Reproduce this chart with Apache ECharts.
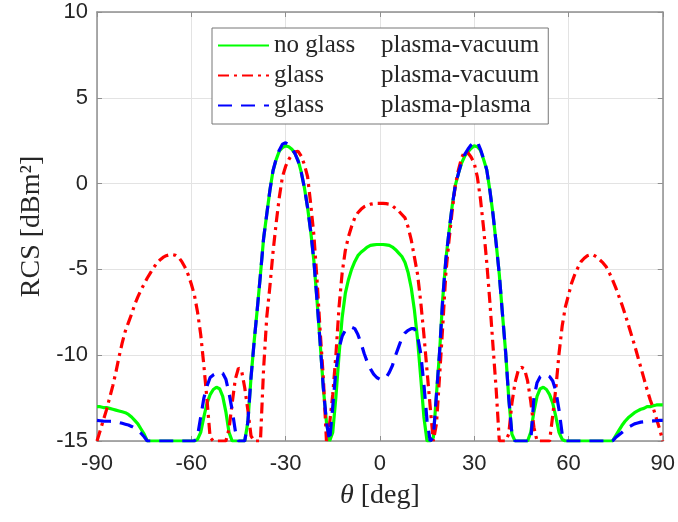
<!DOCTYPE html>
<html>
<head>
<meta charset="utf-8">
<script src="https://cdn.jsdelivr.net/npm/echarts@6/dist/echarts.min.js"></script>
<style>
  html, body { margin: 0; padding: 0; background: #fff; }
  #main { width: 678px; height: 522px; }
</style>
</head>
<body>
<div id="main"></div>
<script>
// theta samples [deg], one per degree
const theta = [
  -90, -89, -88, -87, -86, -85, -84, -83, -82, -81, -80, -79, -78, -77, -76, -75, -74, -73, -72, -71,
  -70, -69, -68, -67, -66, -65, -64, -63, -62, -61, -60, -59, -58, -57, -56, -55, -54, -53, -52, -51,
  -50, -49, -48, -47, -46, -45, -44, -43, -42, -41, -40, -39, -38, -37, -36, -35, -34, -33, -32, -31,
  -30, -29, -28, -27, -26, -25, -24, -23, -22, -21, -20, -19, -18, -17, -16, -15, -14, -13, -12, -11,
  -10, -9, -8, -7, -6, -5, -4, -3, -2, -1, 0, 1, 2, 3, 4, 5, 6, 7, 8, 9,
  10, 11, 12, 13, 14, 15, 16, 17, 18, 19, 20, 21, 22, 23, 24, 25, 26, 27, 28, 29,
  30, 31, 32, 33, 34, 35, 36, 37, 38, 39, 40, 41, 42, 43, 44, 45, 46, 47, 48, 49,
  50, 51, 52, 53, 54, 55, 56, 57, 58, 59, 60, 61, 62, 63, 64, 65, 66, 67, 68, 69,
  70, 71, 72, 73, 74, 75, 76, 77, 78, 79, 80, 81, 82, 83, 84, 85, 86, 87, 88, 89, 90
];

// no glass, plasma-vacuum
const rcsNoGlass = [
  -13.0, -13.0, -13.05, -13.05, -13.1, -13.15, -13.2, -13.25, -13.3, -13.35, -13.45, -13.6, -13.8, -14.0, -14.3, -14.6, -15,
  -15, -15, -15, -15, -15, -15, -15, -15, -15, -15, -15, -15, -15, -15, -15,
  -14.9, -14.5, -13.6, -12.8, -12.3, -12.0, -11.87, -11.95, -12.4, -13.3, -14.5, -15,
  -15, -15, -15, -15,
  -13.9, -11.3, -9.2, -7.3, -5.3, -3.2, -1.8, -0.4, 0.75, 1.4, 1.9, 2.1, 2.2, 2.15, 2.0, 1.75, 1.35, 0.65, -0.25, -1.4, -2.8, -4.5, -6.8, -9.3, -11.9, -13.9, -15,
  -14.5, -12.45, -10.0, -7.8, -6.4, -5.6, -5.0, -4.55, -4.2, -4.0, -3.85, -3.7, -3.6, -3.57, -3.55,
  -3.55, -3.55, -3.57, -3.6, -3.7, -3.85, -4.05, -4.25, -4.6, -5.2, -6.1, -7.4, -9.1, -11.3, -13.6, -15, -15,
  -14.8, -12.3, -9.8, -6.7, -4.4, -2.8, -1.3, -0.1, 0.6, 1.2, 1.6, 1.85, 2.05, 2.2, 2.15, 1.95, 1.4, 0.8, -0.4, -1.8, -3.5, -5.3, -7.6, -9.8, -12.5, -14.6, -15,
  -15, -15, -15, -15,
  -14.5, -13.3, -12.4, -11.95, -11.87, -12.0, -12.3, -12.8, -13.6, -14.5, -14.9,
  -15, -15, -15, -15, -15, -15, -15, -15, -15, -15, -15, -15, -15, -15, -15, -15,
  -14.7, -14.4, -14.1, -13.85, -13.65, -13.5, -13.35, -13.25, -13.15, -13.1, -13.0, -13.0, -12.95, -12.9, -12.9, -12.9
];

// glass, plasma-vacuum
const rcsGlassVacuum = [
  -15, -14.4, -13.8, -13.2, -12.5, -11.8, -11.0, -10.1, -9.3, -8.6, -8.1, -7.6, -7.05, -6.6, -6.2, -5.85, -5.5, -5.2, -4.9,
  -4.65, -4.45, -4.3, -4.2, -4.15, -4.14, -4.18, -4.3, -4.55, -4.88, -5.3, -5.85, -6.5, -7.5, -8.8, -10.6, -12.6, -14.8,
  -15, -15, -15, -15, -15,
  -14.3, -12.8, -11.4, -10.75, -10.9, -11.9, -13.2, -14.7, -15, -15, -15,
  -10.8, -7.8, -6.0, -4.0, -2.3, -0.8, 0.4, 1.0, 1.4, 1.7, 1.85, 1.88, 1.6, 1.1, 0.4, -1.2, -3.0, -5.6, -8.6, -11.3, -15,
  -14.0, -12.3, -10.0, -7.2, -5.2, -3.9, -3.1, -2.5, -2.0, -1.7, -1.5, -1.35, -1.27, -1.2, -1.17, -1.15,
  -1.15, -1.15, -1.17, -1.2, -1.3, -1.45, -1.6, -1.8, -2.0, -2.55, -3.3, -4.3, -5.3, -6.9, -8.8, -10.9, -13.0, -15,
  -14.0, -11.2, -8.3, -5.2, -3.3, -1.6, -0.1, 0.8, 1.5, 1.9, 1.8, 1.55, 1.2, 0.4, -0.9, -2.6, -4.6, -6.9, -9.5, -12.0, -15,
  -15, -15,
  -14.6, -12.8, -11.6, -10.9, -10.7, -10.8, -11.5, -12.7, -14.2, -15,
  -15, -15, -15, -15,
  -13.5, -11.9, -9.9, -8.3, -7.2, -6.5, -5.8, -5.3, -4.9, -4.55, -4.35, -4.2, -4.14, -4.17, -4.28, -4.45, -4.62, -4.85,
  -5.2, -5.6, -6.05, -6.55, -7.05, -7.6, -8.2, -8.8, -9.4, -10.05, -10.7, -11.35, -12.0, -12.6, -13.1, -13.7, -14.3, -15
];

// glass, plasma-plasma
const rcsGlassPlasma = [
  -13.8, -13.82, -13.84, -13.85, -13.85, -13.86, -13.88, -13.92, -13.97, -14.02, -14.07, -14.15, -14.25, -14.4, -14.55, -14.75, -15,
  -15, -15, -15, -15, -15, -15, -15, -15, -15, -15, -15, -15, -15, -15, -15,
  -14.7, -13.6, -12.5, -11.8, -11.3, -11.15, -11.05, -11.0, -11.05, -11.4, -12.2, -13.2, -14.4, -15,
  -15, -15,
  -13.9, -11.3, -9.2, -7.3, -5.3, -3.2, -1.8, -0.4, 0.75, 1.45, 1.95, 2.3, 2.38, 2.25, 2.05, 1.75, 1.3, 0.65, -0.25, -1.4, -2.8, -4.5, -6.8, -9.3, -11.9, -13.9, -15,
  -13.0, -10.9, -9.6, -8.9, -8.55, -8.4, -8.37, -8.45, -8.8, -9.3, -9.9, -10.4, -10.8, -11.1, -11.3,
  -11.4, -11.4, -11.3, -11.0, -10.6, -10.0, -9.5, -9.0, -8.7, -8.55, -8.45, -8.45, -8.9, -9.9, -11.7, -13.8, -15,
  -14.8, -12.3, -9.8, -6.7, -4.4, -2.8, -1.3, -0.1, 0.6, 1.25, 1.7, 2.0, 2.25, 2.4, 2.45, 2.0, 1.45, 0.8, -0.4, -1.8, -3.5, -5.3, -7.6, -9.8, -12.5, -14.6, -15,
  -15, -15, -15, -15, -15,
  -12.5, -11.6, -11.25, -11.15, -11.15, -11.25, -11.5, -12.1, -13.2, -14.6,
  -15, -15, -15, -15, -15, -15, -15, -15, -15, -15, -15, -15, -15, -15, -15, -15,
  -14.8, -14.65, -14.5, -14.35, -14.2, -14.1, -14.0, -13.95, -13.9, -13.88, -13.86, -13.85, -13.83, -13.82, -13.8, -13.8
];

const legendLeft = ['no glass', 'glass', 'glass'];
const legendRight = ['plasma-vacuum', 'plasma-vacuum', 'plasma-plasma'];
const seriesNames = legendLeft.map((s, i) => s + '|' + legendRight[i]);

const xTicks = { min: -90, max: 90, interval: 30 };
const yTicks = { min: -15, max: 10, interval: 5 };

const textColor = '#262626';
const boxColor = '#8f8f8f';
const gridColor = '#e3e3e3';
const sansFont = '"Liberation Sans", Arial, sans-serif';
const serifFont = '"Liberation Serif", "Times New Roman", serif';

function pairs(ys) {
  return theta.map((t, i) => [t, ys[i]]);
}

// box axes (top / right) only carry the frame and inward ticks
function frameAxis(pos, ticks) {
  return {
    type: 'value',
    min: ticks.min, max: ticks.max, interval: ticks.interval,
    position: pos,
    axisLine: { show: true, onZero: false, lineStyle: { color: boxColor, width: 1.5 } },
    axisTick: { show: true, inside: true, length: 5, lineStyle: { color: boxColor } },
    axisLabel: { show: false },
    splitLine: { show: false }
  };
}

const chart = echarts.init(document.getElementById('main'));

const option = {
  backgroundColor: '#fff',
  animation: false,
  grid: { left: 97, right: 15, top: 12, bottom: 81 },
  legend: {
    orient: 'vertical',
    left: 212,
    top: 28,
    data: seriesNames,
    backgroundColor: '#fff',
    borderColor: '#777',
    borderWidth: 1,
    padding: [5, 9, 6, 5],
    itemWidth: 51,
    itemHeight: 14,
    itemGap: 5,
    itemStyle: { opacity: 0 },
    formatter: function (name) {
      const p = name.split('|');
      return '{a|' + p[0] + '}{b|' + p[1] + '}';
    },
    textStyle: {
      fontFamily: serifFont,
      fontSize: 25,
      color: textColor,
      lineHeight: 25,
      rich: {
        a: { width: 107, fontFamily: serifFont, fontSize: 25, color: textColor },
        b: { fontFamily: serifFont, fontSize: 25, color: textColor }
      }
    }
  },
  xAxis: [
    {
      type: 'value',
      min: xTicks.min, max: xTicks.max, interval: xTicks.interval,
      position: 'bottom',
      axisLine: { show: true, onZero: false, lineStyle: { color: boxColor, width: 1.5 } },
      axisTick: { show: true, inside: true, length: 5, lineStyle: { color: boxColor } },
      axisLabel: { fontFamily: sansFont, fontSize: 22, color: textColor, margin: 12 },
      splitLine: { show: true, lineStyle: { color: gridColor, width: 1 } },
      name: '{i|θ} [deg]',
      nameLocation: 'middle',
      nameGap: 41,
      nameTextStyle: {
        fontFamily: serifFont, fontSize: 28, color: textColor,
        rich: { i: { fontFamily: serifFont, fontStyle: 'italic', fontSize: 28, color: textColor } }
      }
    },
    frameAxis('top', xTicks)
  ],
  yAxis: [
    {
      type: 'value',
      min: yTicks.min, max: yTicks.max, interval: yTicks.interval,
      position: 'left',
      axisLine: { show: true, onZero: false, lineStyle: { color: boxColor, width: 1.5 } },
      axisTick: { show: true, inside: true, length: 5, lineStyle: { color: boxColor } },
      axisLabel: { fontFamily: sansFont, fontSize: 22, color: textColor, margin: 9 },
      splitLine: { show: true, lineStyle: { color: gridColor, width: 1 } },
      name: 'RCS [dBm²]',
      nameLocation: 'middle',
      nameGap: 36,
      nameTextStyle: { fontFamily: serifFont, fontSize: 28, color: textColor }
    },
    frameAxis('right', yTicks)
  ],
  series: [
    {
      name: seriesNames[0],
      type: 'line',
      symbol: 'none',
      data: pairs(rcsNoGlass),
      lineStyle: { color: '#00ff00', width: 3.2, type: 'solid' },
      itemStyle: { color: '#00ff00' }
    },
    {
      name: seriesNames[1],
      type: 'line',
      symbol: 'none',
      data: pairs(rcsGlassVacuum),
      lineStyle: { color: '#ff0000', width: 3.2, type: [11, 5, 3, 5] },
      itemStyle: { color: '#ff0000' }
    },
    {
      name: seriesNames[2],
      type: 'line',
      symbol: 'none',
      data: pairs(rcsGlassPlasma),
      lineStyle: { color: '#0000ff', width: 3.2, type: [14, 9] },
      itemStyle: { color: '#0000ff' }
    }
  ]
};

chart.setOption(option);
</script>
</body>
</html>
